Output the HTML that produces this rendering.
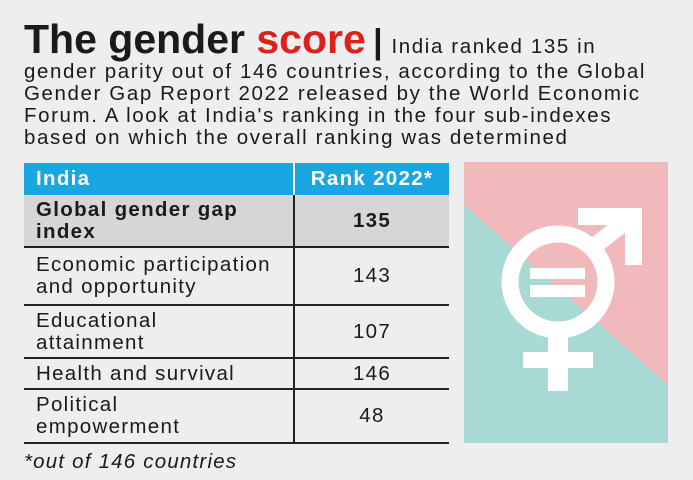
<!DOCTYPE html><html><head><style>
body{margin:0;width:693px;height:480px;background:#eceeef;font-family:"Liberation Sans",sans-serif;position:relative;overflow:hidden;color:#1a1a1a}
.t{position:absolute;left:24px;top:17px;font-size:20.5px;line-height:22px;width:680px;letter-spacing:1.6px;white-space:nowrap}
.big{font-size:41px;font-weight:bold;letter-spacing:0px;line-height:44px}
table{position:absolute;left:24px;top:163px;border-collapse:collapse;width:425px;font-size:20.5px;letter-spacing:1.3px}
td{padding:0 12px;line-height:22px;border-bottom:2px solid #222}
td:nth-child(2){border-left:2px solid #222;text-align:center;width:130px}
.h td{background:#1aa6e0;color:#fff;font-weight:bold;height:32px;border-bottom:none}
.h td:nth-child(2){border-left:2px solid #fff}
.g td{background:#d6d6d6;font-weight:bold;height:51px}
</style></head><body>
<div class="t"><span class="big">The gender <span style="color:#e0201b">score</span></span> <span style="font-size:34px;font-weight:bold">|</span> India ranked 135 in<br>gender parity out of 146 countries, according to the Global<br>Gender Gap Report 2022 released by the World Economic<br>Forum. A look at India's ranking in the four sub-indexes<br>based on which the overall ranking was determined</div>
<table>
<tr class="h"><td>India</td><td>Rank 2022*</td></tr>
<tr class="g"><td>Global gender gap<br>index</td><td>135</td></tr>
<tr style="height:58px"><td>Economic participation<br>and opportunity</td><td>143</td></tr>
<tr style="height:53px"><td>Educational<br>attainment</td><td>107</td></tr>
<tr style="height:31px"><td>Health and survival</td><td>146</td></tr>
<tr style="height:54px"><td>Political<br>empowerment</td><td>48</td></tr>
</table>
<div style="position:absolute;left:24px;top:450px;font-size:20.5px;letter-spacing:1.2px;font-style:italic">*out of 146 countries</div>
<svg style="position:absolute;left:0;top:0" width="693" height="480">
<rect x="464" y="162" width="204" height="281" fill="#a9d9d4"/>
<polygon points="464,162 668,162 668,385 464,205" fill="#f1b9bb"/>
<g fill="none" stroke="#fff" stroke-width="17">
<circle cx="558" cy="282" r="48"/>
<line x1="592" y1="248" x2="630" y2="218"/>
</g>
<g fill="#fff">
<polygon points="578,208 642,208 642,265 625,265 625,225 578,225"/>
<rect x="548" y="325" width="20" height="66"/>
<rect x="523" y="352" width="70" height="16"/>
<rect x="530" y="268" width="55" height="11"/>
<rect x="530" y="285" width="55" height="12"/>
</g>
</svg>
</body></html>
